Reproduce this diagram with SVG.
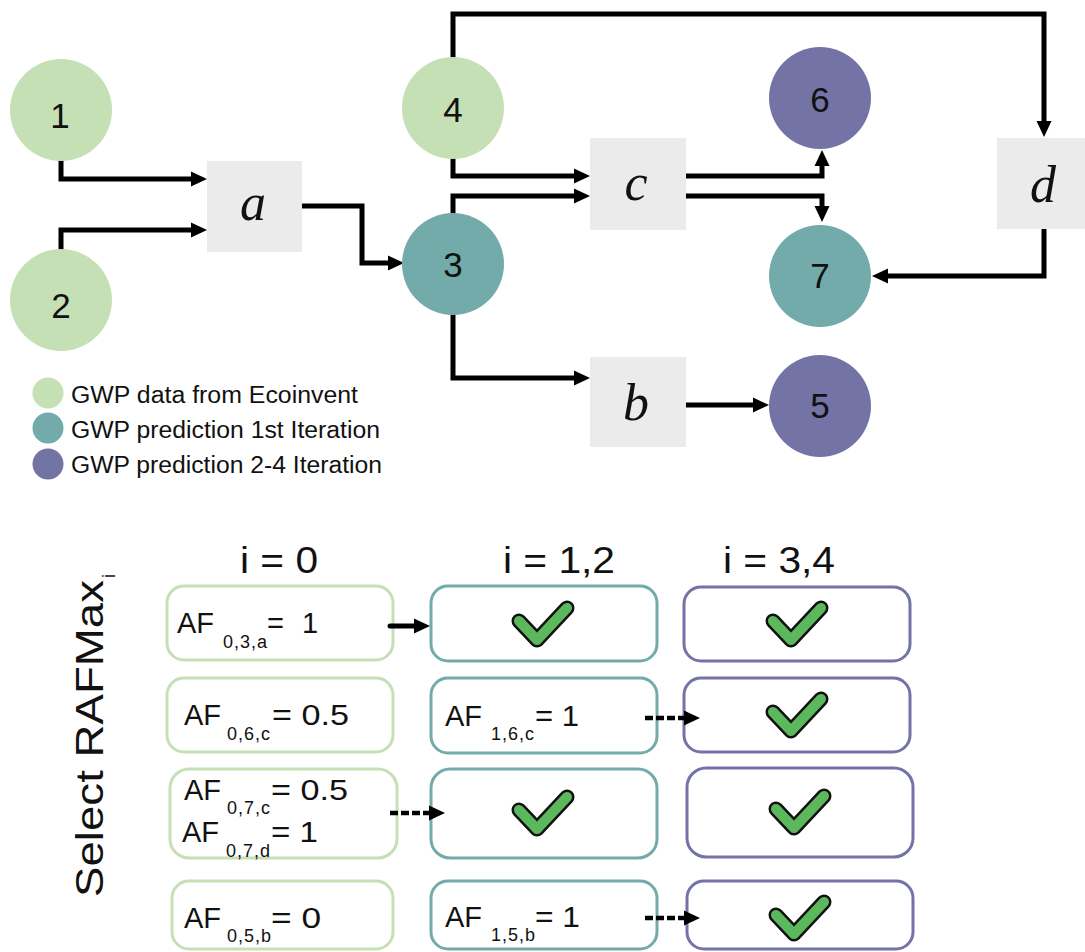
<svg xmlns="http://www.w3.org/2000/svg" xmlns:xlink="http://www.w3.org/1999/xlink" width="1085" height="952" viewBox="0 0 1085 952">
<style>
.sans{font-family:"Liberation Sans",Arial,sans-serif;fill:#111}
.num{font-family:"Liberation Sans",Arial,sans-serif;font-size:35px;fill:#111;text-anchor:middle}
.var{font-family:"Liberation Serif","Times New Roman",serif;font-style:italic;font-size:52px;fill:#111;text-anchor:middle}
.eco{fill:#c5e0b4}
.it1{fill:#72abaa}
.it2{fill:#7373a5}
.proc{fill:#ebebeb}
.conn{fill:none;stroke:#000;stroke-width:5;stroke-linecap:round;stroke-linejoin:miter;marker-end:url(#ah)}
.dash{fill:none;stroke:#000;stroke-width:4.5;stroke-dasharray:8 3;marker-end:url(#ah)}
.bx{fill:#fff;stroke-width:3}
.bg{stroke:#c5e0b4}
.bt{stroke:#72abaa}
.bp{stroke:#7373a8}
.af{font-size:29px}
.sub{font-size:18px;letter-spacing:1px}
.hdr{font-size:36px}
.leg{font-size:23px}
</style>
<defs>
<marker id="ah" markerUnits="userSpaceOnUse" markerWidth="17" markerHeight="16" refX="8" refY="7.5" orient="auto" overflow="visible">
<path d="M0,0 L16,7.5 L0,15 z" fill="#000"/>
</marker>
<g id="check">
<polyline points="-24,-3 -6,16 24,-16" fill="none" stroke="#111" stroke-width="15" stroke-linecap="round" stroke-linejoin="round"/>
<polyline points="-24,-3 -6,16 24,-16" fill="none" stroke="#5cb85c" stroke-width="10" stroke-linecap="round" stroke-linejoin="round"/>
</g>
</defs>
<rect width="1085" height="952" fill="#fff"/>

<g id="connectors">
<path class="conn" d="M61,160 V179 H199"/>
<path class="conn" d="M61,250 V230 H199"/>
<path class="conn" d="M302,206 H362 V263 H396"/>
<path class="conn" d="M453,158 V176 H582"/>
<path class="conn" d="M453,213 V196 H582"/>
<path class="conn" d="M683,176 H822 V158"/>
<path class="conn" d="M683,196 H822 V214"/>
<path class="conn" d="M453,57 V14 H1044 V129"/>
<path class="conn" d="M1044,229 V276 H880"/>
<path class="conn" d="M453,315 V378 H582"/>
<path class="conn" d="M683,405 H761"/>
</g>

<g id="node-1"><circle class="eco" cx="61" cy="110" r="51"/><text class="num" x="60" y="128">1</text></g>
<g id="node-2"><circle class="eco" cx="61" cy="300" r="51"/><text class="num" x="61" y="318">2</text></g>
<g id="node-3"><circle class="it1" cx="453" cy="264" r="51"/><text class="num" x="453" y="277">3</text></g>
<g id="node-4"><circle class="eco" cx="453" cy="108" r="51"/><text class="num" x="453" y="122">4</text></g>
<g id="node-5"><circle class="it2" cx="820" cy="406" r="51"/><text class="num" x="820" y="418">5</text></g>
<g id="node-6"><circle class="it2" cx="820" cy="98" r="51"/><text class="num" x="820" y="112">6</text></g>
<g id="node-7"><circle class="it1" cx="820" cy="276" r="51"/><text class="num" x="820" y="288">7</text></g>

<g id="proc-a"><rect class="proc" x="207" y="161" width="95" height="91"/><text class="var" x="253" y="220">a</text></g>
<g id="proc-b"><rect class="proc" x="590" y="357" width="96" height="90"/><text class="var" x="636" y="420">b</text></g>
<g id="proc-c"><rect class="proc" x="590" y="138" width="96" height="92"/><text class="var" x="636" y="200">c</text></g>
<g id="proc-d"><rect class="proc" x="997" y="138" width="93" height="91"/><text class="var" x="1043" y="202">d</text></g>

<g id="legend">
<circle class="eco" cx="48" cy="393" r="15.5"/>
<circle class="it1" cx="48" cy="428" r="15.5"/>
<circle class="it2" cx="48" cy="464" r="15.5"/>
<text class="sans leg" x="71" y="403" textLength="287" lengthAdjust="spacingAndGlyphs">GWP data from Ecoinvent</text>
<text class="sans leg" x="71" y="438" textLength="309" lengthAdjust="spacingAndGlyphs">GWP prediction 1st Iteration</text>
<text class="sans leg" x="71" y="473" textLength="311" lengthAdjust="spacingAndGlyphs">GWP prediction 2-4 Iteration</text>
</g>

<g id="side-label">
<text class="sans" transform="translate(103,897) rotate(-90)" font-size="39" textLength="317" lengthAdjust="spacingAndGlyphs">Select RAFMax</text>
<text class="sans" transform="translate(115,578) rotate(-90)" font-size="18">i</text>
</g>

<g id="headers">
<text class="sans hdr" x="240" y="573" textLength="78" lengthAdjust="spacingAndGlyphs">i = 0</text>
<text class="sans hdr" x="503" y="573" textLength="112" lengthAdjust="spacingAndGlyphs">i = 1,2</text>
<text class="sans hdr" x="723" y="573" textLength="112" lengthAdjust="spacingAndGlyphs">i = 3,4</text>
</g>

<g id="row1-col1"><rect class="bx bg" x="167" y="586" width="226" height="74" rx="17"/>
<text class="sans af" x="177" y="633">AF</text>
<text class="sans sub" x="223" y="648">0,3,a</text>
<text class="sans af" x="267" y="633">=</text>
<text class="sans af" x="302" y="633">1</text></g>
<g id="row1-col2"><rect class="bx bt" x="431" y="586" width="226" height="75" rx="17"/><use xlink:href="#check" x="543" y="624"/></g>
<g id="row1-col3"><rect class="bx bp" x="684" y="587" width="226" height="74" rx="17"/><use xlink:href="#check" x="797" y="624"/></g>

<g id="row2-col1"><rect class="bx bg" x="167" y="678" width="226" height="74" rx="17"/>
<text class="sans af" x="184" y="725">AF</text>
<text class="sans sub" x="227" y="740">0,6,c</text>
<text class="sans af" x="272" y="725" textLength="77" lengthAdjust="spacingAndGlyphs">= 0.5</text></g>
<g id="row2-col2"><rect class="bx bt" x="431" y="678" width="226" height="75" rx="17"/>
<text class="sans af" x="445" y="726">AF</text>
<text class="sans sub" x="491" y="740">1,6,c</text>
<text class="sans af" x="535" y="726" textLength="44" lengthAdjust="spacingAndGlyphs">= 1</text></g>
<g id="row2-col3"><rect class="bx bp" x="684" y="678" width="226" height="74" rx="17"/><use xlink:href="#check" x="797" y="715"/></g>

<g id="row3-col1"><rect class="bx bg" x="170" y="769" width="227" height="89" rx="19"/>
<text class="sans af" x="184" y="800">AF</text>
<text class="sans sub" x="227" y="814">0,7,c</text>
<text class="sans af" x="271" y="800" textLength="77" lengthAdjust="spacingAndGlyphs">= 0.5</text>
<text class="sans af" x="182" y="842">AF</text>
<text class="sans sub" x="226" y="857">0,7,d</text>
<text class="sans af" x="271" y="842" textLength="47" lengthAdjust="spacingAndGlyphs">= 1</text></g>
<g id="row3-col2"><rect class="bx bt" x="431" y="769" width="226" height="89" rx="19"/><use xlink:href="#check" x="543" y="813"/></g>
<g id="row3-col3"><rect class="bx bp" x="687" y="768" width="226" height="89" rx="19"/><use xlink:href="#check" x="800" y="812"/></g>

<g id="row4-col1"><rect class="bx bg" x="172" y="881" width="221" height="68" rx="17"/>
<text class="sans af" x="184" y="928">AF</text>
<text class="sans sub" x="227" y="942">0,5,b</text>
<text class="sans af" x="271" y="928" textLength="50" lengthAdjust="spacingAndGlyphs">= 0</text></g>
<g id="row4-col2"><rect class="bx bt" x="431" y="881" width="226" height="68" rx="17"/>
<text class="sans af" x="445" y="927">AF</text>
<text class="sans sub" x="491" y="941">1,5,b</text>
<text class="sans af" x="535" y="927" textLength="45" lengthAdjust="spacingAndGlyphs">= 1</text></g>
<g id="row4-col3"><rect class="bx bp" x="687" y="881" width="226" height="68" rx="17"/><use xlink:href="#check" x="800" y="918"/></g>

<g id="table-arrows">
<path class="conn" d="M390,626 H422"/>
<path class="dash" d="M645,718 H692"/>
<path class="dash" d="M390,813 H437"/>
<path class="dash" d="M645,918 H692"/>
</g>
</svg>
